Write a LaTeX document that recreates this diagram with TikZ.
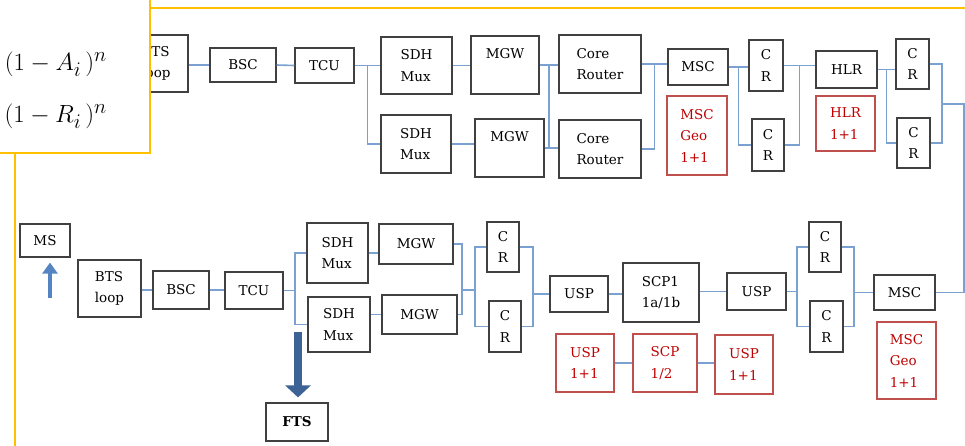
\documentclass[tikz,border=0pt]{standalone}
\usepackage{tikz}
\usepackage{color}
\usepackage{fontspec}
\usetikzlibrary{calc,arrows.meta}

\newfontfamily\labelfont{DejaVu Serif}
\definecolor{boxgray}{HTML}{404040}
\definecolor{boxred}{HTML}{C0504D}
\definecolor{txtred}{HTML}{C00000}
\definecolor{linkblue}{HTML}{7BA1D1}
\definecolor{frameyellow}{HTML}{FFC000}
\definecolor{msblue}{HTML}{5485C2}
\definecolor{ftsblue}{HTML}{3C6296}
\newcommand{\boxfont}{\labelfont\fontsize{13.5}{21.5}\selectfont}

\begin{document}
\begin{tikzpicture}[>=stealth, x=1pt, y=-1pt,
    blk/.style={draw=boxgray, line width=1.2pt, fill=white, inner sep=0pt, align=left, font=\boxfont},
    redblk/.style={blk, draw=boxred, line width=2pt, text=txtred},
    boxsize/.style 2 args={minimum width=#1, minimum height=#2},
    link/.style={draw=linkblue, line width=1.6pt},
    frame/.style={draw=frameyellow, line width=2.4pt}]
    \useasboundingbox (0,0) rectangle (965,446);
    \clip (0,0) rectangle (965,446);

    % upper chain
    \node[blk, boxsize={64}{57}] (btsA) at (156,63.5) {BTS\\loop};
    \node[blk, boxsize={66}{34}] (bscA) at (243,65) {BSC};
    \node[blk, boxsize={59}{35}] (tcuA) at (324.5,65.5) {TCU};
    \node[blk, boxsize={71}{57}] (sdhA1) at (416.5,65.5) {SDH\\Mux};
    \node[blk, boxsize={70}{58}] (sdhA2) at (416,144) {SDH\\Mux};
    \node[blk, boxsize={68}{58}, text height=10pt, text depth=22pt] (mgwA1) at (505,65) {MGW};
    \node[blk, boxsize={69}{58}, text height=10pt, text depth=22pt] (mgwA2) at (509.5,148) {MGW};
    \node[blk, boxsize={82}{58}] (corA1) at (600,64) {Core\\Router};
    \node[blk, boxsize={82}{58}] (corA2) at (600,149) {Core\\Router};
    \node[blk, boxsize={60}{36}] (mscA) at (698,67) {MSC};
    \node[redblk, boxsize={60}{79}] (geoA) at (697,135.5) {MSC\\Geo\\1+1};
    \node[blk, boxsize={34}{51}] (crA1) at (766,65.5) {C\\R};
    \node[blk, boxsize={32}{52}] (crA2) at (768,145) {C\\R};
    \node[blk, boxsize={61}{37}] (hlrA) at (846.5,69.5) {HLR};
    \node[redblk, boxsize={59}{55}] (hlrB) at (845.5,123.5) {HLR\\1+1};
    \node[blk, boxsize={33}{50}] (crA3) at (912.5,64) {C\\R};
    \node[blk, boxsize={33}{50}] (crA4) at (913.5,143) {C\\R};

    % lower chain
    \node[blk, boxsize={50}{33}] (ms) at (45,240.5) {MS};
    \node[blk, boxsize={63}{57}] (btsB) at (109.5,288.5) {BTS\\loop};
    \node[blk, boxsize={56}{38}] (bscB) at (181,290) {BSC};
    \node[blk, boxsize={58}{37}] (tcuB) at (254,290.5) {TCU};
    \node[blk, boxsize={61}{60}] (sdhB1) at (337.5,253) {SDH\\Mux};
    \node[blk, boxsize={62}{55}] (sdhB2) at (339,324.5) {SDH\\Mux};
    \node[blk, boxsize={74}{40}] (mgwB1) at (416,244) {MGW};
    \node[blk, boxsize={75}{39}] (mgwB2) at (419.5,314.5) {MGW};
    \node[blk, boxsize={32}{50}] (crB1) at (503,247) {C\\R};
    \node[blk, boxsize={32}{51}] (crB2) at (505,326.5) {C\\R};
    \node[blk, boxsize={58}{36}] (uspB) at (579,294) {USP};
    \node[blk, boxsize={76}{59}] (scp) at (661,292.5) {SCP1\\1a/1b};
    \node[blk, boxsize={59}{37}] (uspC) at (756.5,291.5) {USP};
    \node[blk, boxsize={32}{50}] (crC1) at (825,247) {C\\R};
    \node[blk, boxsize={33}{51}] (crC2) at (826.5,326.5) {C\\R};
    \node[blk, boxsize={61}{35}] (mscB) at (904.5,292.5) {MSC};
    \node[redblk, boxsize={59}{77}] (geoB) at (906.5,360.5) {MSC\\Geo\\1+1};
    \node[redblk, boxsize={58}{58}] (uspR1) at (585,363) {USP\\1+1};
    \node[redblk, boxsize={64}{58}] (scpR) at (665,363) {SCP\\1/2};
    \node[redblk, boxsize={58}{59}] (uspR2) at (744,364.5) {USP\\1+1};
    \node[blk, boxsize={62}{38}, font=\boxfont\bfseries] (fts) at (297,422) {FTS};

    % upper connectors
    \draw[link] (bscA.west -| btsA.east) -- (bscA.west);
    \draw[link] (bscA.east) -- (tcuA.west);
    \coordinate (jA1) at ($(tcuA.east)!.5!(tcuA.east -| sdhA1.west)$);
    \draw[link] (tcuA.east) -- (tcuA.east -| sdhA1.west);
    \draw[link] (jA1) |- (sdhA2.west);
    \draw[link] (sdhA1.east) -- (sdhA1.east -| mgwA1.west);
    \draw[link] (sdhA2.east) -- (sdhA2.east -| mgwA2.west);
    \draw[link] (mgwA1.east) -- (mgwA1.east -| corA1.west);
    \draw[link] (mgwA2.east) -- (mgwA2.east -| corA2.west);
    \coordinate (jA2) at ($(mgwA1.east)!.5!(mgwA1.east -| corA1.west)$);
    \draw[link] (jA2) -- (jA2 |- mgwA2.east);
    \draw[link] (corA1.east) -- (corA1.east -| mscA.west);
    \coordinate (jA3) at ($(corA1.east)!.5!(corA1.east -| mscA.west)$);
    \draw[link] (corA2.east) -| (jA3);
    \draw[link] (mscA.east) -- (mscA.east -| crA1.west);
    \coordinate (jA4) at ($(mscA.east)!.5!(mscA.east -| crA1.west)$);
    \draw[link] (jA4) |- (crA2.west);
    \draw[link] (crA1.east) -- (crA1.east -| hlrA.west);
    \coordinate (jA5) at ($(crA1.east)!.5!(crA1.east -| hlrA.west)$);
    \draw[link] (crA2.east) -| (jA5);
    \draw[link] (hlrA.east) -- (hlrA.east -| crA3.west);
    \coordinate (jA6) at ($(hlrA.east)!.5!(hlrA.east -| crA3.west)$);
    \draw[link] (jA6) |- (crA4.west);
    \coordinate (jA7) at (942,104);
    \draw[link] (crA3.east) -| (jA7) |- (crA4.east);
    \coordinate (edgeR) at (964,104);
    \draw[link] (jA7) -- (edgeR) |- (mscB.east);

    % lower connectors
    \draw[link] (bscB.west -| btsB.east) -- (bscB.west);
    \draw[link] (bscB.east) -- (bscB.east -| tcuB.west);
    \coordinate (jB1) at ($(tcuB.east)!.5!(tcuB.east -| sdhB1.west)$);
    \draw[link] (tcuB.east) -- (jB1);
    \draw[link] (sdhB1.west) -| (jB1) |- (sdhB2.west);
    \draw[link] (sdhB1.east) -- (sdhB1.east -| mgwB1.west);
    \draw[link] (mgwB2.west -| sdhB2.east) -- (mgwB2.west);
    \coordinate (jB2) at (462,290);
    \coordinate (jB3) at (475,290);
    \draw[link] (mgwB1.east) -| (jB2) |- (mgwB2.east);
    \draw[link] (jB2) -- (jB3);
    \draw[link] (crB1.west) -| (jB3) |- (crB2.west);
    \coordinate (jB4) at (533,294);
    \draw[link] (crB1.east) -| (jB4) |- (crB2.east);
    \draw[link] (jB4) -- (uspB.west);
    \draw[link] (uspB.east) -- (uspB.east -| scp.west);
    \draw[link] (uspC.west -| scp.east) -- (uspC.west);
    \coordinate (jB5) at (797,291.5);
    \draw[link] (uspC.east) -- (jB5);
    \draw[link] (crC1.west) -| (jB5) |- (crC2.west);
    \coordinate (jB6) at (854,292.5);
    \draw[link] (crC1.east) -| (jB6) |- (crC2.east);
    \draw[link] (jB6) -- (mscB.west);
    \draw[link] (uspR1.east) -- (uspR1.east -| scpR.west);
    \draw[link] (scpR.east) -- (scpR.east -| uspR2.west);

    % block arrows
    \coordinate (msFoot) at (50,298);
    \draw[draw=msblue, line width=4.5pt, -{Triangle[width=15pt,length=11pt]}, shorten >=5pt] (msFoot) -- (msFoot |- ms.south);
    \coordinate (ftsFoot) at (298,332);
    \draw[draw=ftsblue, line width=8pt, -{Triangle[width=25pt,length=12pt]}, shorten >=5pt] (ftsFoot) -- (ftsFoot |- fts.north);

    % formula frame
    \draw[frame, fill=white] (-10,-10) rectangle (150,153);
    \node[anchor=base east, inner sep=0pt, font=\fontsize{29}{34}\selectfont] (fA) at (107,71) {$(1-A_i\,)^n$};
    \node[anchor=base east, inner sep=0pt, font=\fontsize{29}{34}\selectfont] (fR) at (107,123) {$(1-R_i\,)^n$};
    \draw[frame] (150,8) -- (975,8);
    \draw[frame] (15,153) -- (15,460);
\end{tikzpicture}
\end{document}
